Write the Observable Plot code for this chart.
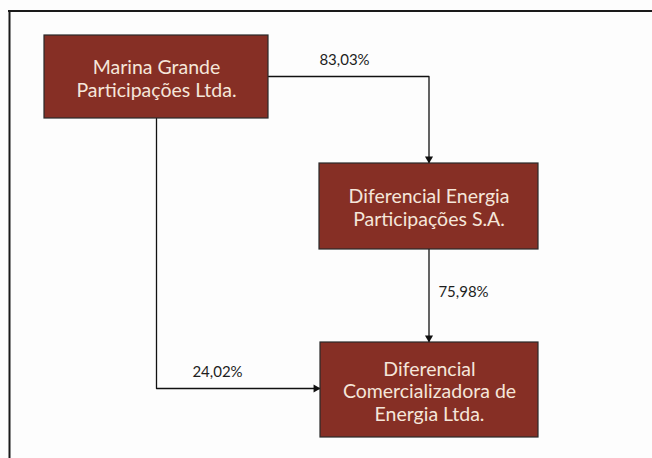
<!DOCTYPE html>
<html>
<head>
<meta charset="utf-8">
<script src="https://cdn.jsdelivr.net/npm/d3@7"></script>
<script src="https://cdn.jsdelivr.net/npm/@observablehq/plot@0.6"></script>
<style>
  html, body { margin: 0; padding: 0; background: #fdfdfd; overflow: hidden; }
  svg { display: block; }
</style>
</head>
<body>
<div id="chart"></div>
<script>
// ---- data ----
const entities = [
  "Marina Grande\nParticipações Ltda.",
  "Diferencial Energia\nParticipações S.A.",
  "Diferencial\nComercializadora de\nEnergia Ltda."
];
const owners = [0, 1, 0];
const owned  = [1, 2, 2];
const shares = ["83,03%", "75,98%", "24,02%"];

// ---- layout (pixels) ----
const W = 652, H = 458;
const boxes = [
  {x1: 44,  x2: 268, y1: 35,  y2: 118},
  {x1: 319, x2: 538, y1: 163, y2: 249},
  {x1: 320, x2: 538, y1: 342, y2: 437}
];
const cx = b => (b.x1 + b.x2) / 2;
const cy = b => (b.y1 + b.y2) / 2;

// edge routes
function route(i) {
  const a = boxes[owners[i]], b = boxes[owned[i]];
  if (owners[i] === 0 && owned[i] === 1) {
    const ty = 76;
    return [[a.x2, ty], [cx(b), ty], [cx(b), b.y1]];
  }
  if (owners[i] === 1) {
    return [[cx(a), a.y2], [cx(a), b.y1]];
  }
  const lx = 156, ly = 388;
  return [[lx, a.y2], [lx, ly], [b.x1, ly]];
}
const labelPos = [[344, 60], [463, 292], [217, 372]];

const linePts = [];
const heads = [];
shares.forEach((s, i) => {
  const pts = route(i);
  pts.forEach(([x, y]) => linePts.push({x, y, edge: i}));
  const [x0, y0] = pts[pts.length - 2], [x1, y1] = pts[pts.length - 1];
  const dx = Math.sign(x1 - x0), dy = Math.sign(y1 - y0);
  const off = 4.6;
  heads.push({x: x1 - dx * off, y: y1 - dy * off, rot: dx > 0 ? 90 : 180});
});

const boxData = entities.map((name, i) => ({...boxes[i], name, cx: cx(boxes[i]), cy: cy(boxes[i]) + 1}));
const labelData = shares.map((s, i) => ({label: s, x: labelPos[i][0], y: labelPos[i][1]}));

const chart = Plot.plot({
  width: W,
  height: H,
  margin: 0,
  style: {background: "#fdfdfd", fontFamily: "Lato, 'Open Sans', sans-serif"},
  x: {domain: [0, W], range: [0, W], axis: null},
  y: {domain: [0, H], range: [0, H], axis: null},
  marks: [
    Plot.ruleY([10.5], {stroke: "#1a1a1a", strokeWidth: 2, x1: 8, x2: W}),
    Plot.ruleX([9], {stroke: "#1a1a1a", strokeWidth: 2, y1: 10, y2: H}),
    Plot.line(linePts, {x: "x", y: "y", z: "edge", stroke: "#111", strokeWidth: 1.3}),
    Plot.dot(heads, {x: "x", y: "y", symbol: "triangle", r: 3, fill: "#111", stroke: "none", rotate: "rot"}),
    Plot.rect(boxData, {x1: "x1", x2: "x2", y1: "y1", y2: "y2", fill: "#862f25", stroke: "#2a2a2a", strokeWidth: 1.2}),
    Plot.text(boxData, {x: "cx", y: "cy", text: "name", fill: "#f5e6da", fontSize: 19.5, lineHeight: 1.17, textAnchor: "middle"}),
    Plot.text(labelData, {x: "x", y: "y", text: "label", fill: "#1e1e1e", fontSize: 15, textAnchor: "middle"})
  ]
});
document.getElementById("chart").appendChild(chart);
</script>
</body>
</html>
